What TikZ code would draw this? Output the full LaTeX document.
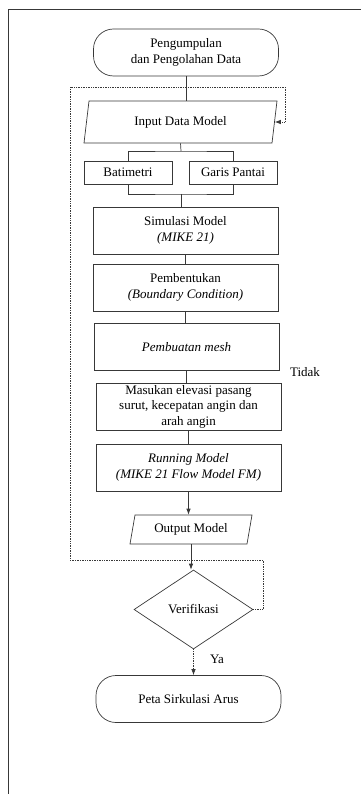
\documentclass[tikz,border=0pt]{standalone}
\usepackage{fontspec}
\setmainfont{Liberation Serif}
\usetikzlibrary{shapes.geometric}
\usetikzlibrary{arrows.meta}
\definecolor{linegray}{HTML}{383838}
\tikzset{
  proc/.style={draw=linegray, line width=0.7pt, minimum width=185pt, minimum height=47pt, inner sep=0pt, align=center},
  term/.style={proc, rounded corners=20pt},
  io/.style={draw=linegray, line width=0.7pt, trapezium, trapezium left angle=67, trapezium right angle=113,
    trapezium stretches body, inner sep=0pt, align=center},
  decide/.style={draw=linegray, line width=0.7pt, diamond, minimum width=119pt, minimum height=79pt, inner sep=0pt},
  flow/.style={draw=linegray, line width=0.7pt},
  arr/.style={flow, -{Latex[length=6pt,width=4.5pt]}},
  loop/.style={draw=linegray, line width=0.7pt, densely dotted}
}

\begin{document}
\begin{tikzpicture}[x=1pt, y=-1pt, font=\fontsize{13}{15.5}\selectfont]

  \useasboundingbox (0,0) rectangle (361,794);

  % frame
  \draw[linegray, line width=0.8pt] (8,794) -- (8,9) -- (361,9);

  \node[term] (start) at (186, 52.5) {Pengumpulan\\dan Pengolahan Data};
  \node[io, minimum width=193pt, minimum height=42pt] (input) at (180.5, 122) {Input Data Model};

  \node[proc, minimum width=88pt, minimum height=23pt] (bat) at (128, 172.5) {Batimetri};
  \node[proc, minimum width=88pt, minimum height=23pt] (gar) at (233, 172.5) {Garis Pantai};
  \coordinate (fork) at (181, 151);
  \coordinate (join) at (181, 194);

  \node[proc] (sim) at (185.5, 230.5) {Simulasi Model\\\textit{(MIKE 21)}};
  \node[proc] (bnd) at (185.5, 287.5) {Pembentukan\\\textit{(Boundary Condition)}};
  \node[proc] (mesh) at (186.5, 347) {\textit{Pembuatan mesh}};
  \node[proc] (masuk) at (188.5, 406.5) {Masukan elevasi pasang\\surut, kecepatan angin dan\\arah angin};
  \node[proc] (run) at (188.5, 467.5) {\textit{Running Model}\\\textit{(MIKE 21 Flow Model FM)}};
  \node[io, minimum width=122pt, minimum height=29pt] (out) at (191, 529.5) {Output Model};
  \node[decide] (ver) at (193.5, 609.5) {Verifikasi};
  \node[term] (finish) at (188.5, 699) {Peta Sirkulasi Arus};

  \node (tidak) at (305, 372) {Tidak};
  \node (ya) at (217, 659) {Ya};

  % connectors
  \draw[flow] (start.south) -- (start.south |- input.north);
  \draw[flow] (input.south) -- (fork);
  \draw[flow] (bat.north) |- (fork) -| (gar.north);
  \draw[flow] (bat.south) |- (join) -| (gar.south);
  \draw[flow] (join) -- (join |- sim.north);
  \draw[flow] (sim.south) -- (sim.south |- bnd.north);
  \draw[flow] (bnd.south) -- (bnd.south |- mesh.north);
  \draw[flow] (mesh.south) -- (mesh.south |- masuk.north);
  \draw[flow] (masuk.south) -- (masuk.south |- run.north);
  \draw[arr] (run.south) -- (run.south |- out.north);
  \draw[arr] (out.south) -- (out.south |- ver.north);
  \draw[arr, densely dotted] (ver.south) -- (ver.south |- finish.north);

  % loop back
  \coordinate (loopA) at (263, 560);
  \coordinate (loopB) at (70, 87);
  \coordinate (loopC) at (285, 87);
  \draw[loop, -{Latex[length=6pt,width=4.5pt]}] (ver.east) -| (loopA) -| (loopB) -- (loopC) |- (input.east);

\end{tikzpicture}
\end{document}
